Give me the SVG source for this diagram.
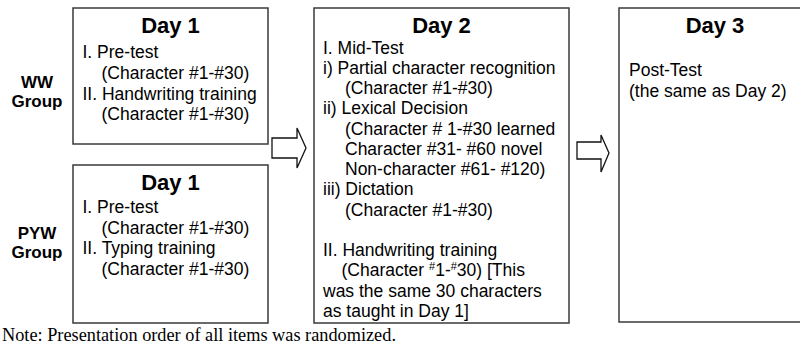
<svg xmlns="http://www.w3.org/2000/svg" width="800" height="346" viewBox="0 0 800 346">
<style>
.box{fill:#fff;stroke:#3a3a3a;stroke-width:1.5}
.arr{fill:#fff;stroke:#111;stroke-width:1.3;stroke-linejoin:miter}
.title{font-family:"Liberation Sans",Arial,sans-serif;font-weight:bold;font-size:22px;fill:#000;text-anchor:middle}
.grp{font-family:"Liberation Sans",Arial,sans-serif;font-weight:bold;font-size:17px;fill:#000;text-anchor:middle}
.t{font-family:"Liberation Sans",Arial,sans-serif;font-size:17.5px;fill:#000}
.note{font-family:"Liberation Serif","Times New Roman",serif;font-size:18.3px;fill:#000}
.sup{font-size:11px}
</style>
<rect width="800" height="346" fill="#fff"/>
<g id="ww-label">
<text class="grp" x="37" y="88">WW</text>
<text class="grp" x="37" y="107">Group</text>
</g>
<g id="pyw-label">
<text class="grp" x="37" y="239">PYW</text>
<text class="grp" x="37" y="258">Group</text>
</g>
<g id="ww-day1">
<rect class="box" x="73" y="8" width="195" height="136"/>
<text class="title" x="170.5" y="33">Day 1</text>
<text class="t" x="82.5" y="58">I. Pre-test</text>
<text class="t" x="101.5" y="78.5">(Character #1-#30)</text>
<text class="t" x="82.5" y="99.5">II. Handwriting training</text>
<text class="t" x="101.5" y="120">(Character #1-#30)</text>
</g>
<g id="pyw-day1">
<rect class="box" x="73" y="165" width="195" height="158"/>
<text class="title" x="170.5" y="190">Day 1</text>
<text class="t" x="82.5" y="213">I. Pre-test</text>
<text class="t" x="101.5" y="233.5">(Character #1-#30)</text>
<text class="t" x="82.5" y="254">II. Typing training</text>
<text class="t" x="101.5" y="274.5">(Character #1-#30)</text>
</g>
<g id="day2">
<rect class="box" x="314" y="8" width="255" height="315"/>
<text class="title" x="441.5" y="33">Day 2</text>
<text class="t" x="323" y="53.5">I. Mid-Test</text>
<text class="t" x="323" y="73.75">i) Partial character recognition</text>
<text class="t" x="345" y="94">(Character #1-#30)</text>
<text class="t" x="323" y="114.25">ii) Lexical Decision</text>
<text class="t" x="345" y="134.5">(Character # 1-#30 learned</text>
<text class="t" x="345" y="154.75">Character #31- #60 novel</text>
<text class="t" x="345" y="175">Non-character #61- #120)</text>
<text class="t" x="323" y="195.25">iii) Dictation</text>
<text class="t" x="345" y="215.5">(Character #1-#30)</text>
<text class="t" x="323" y="256">II. Handwriting training</text>
<text class="t" x="341.5" y="276.25">(Character <tspan class="sup" dy="-6">#</tspan><tspan dy="6">1-</tspan><tspan class="sup" dy="-6">#</tspan><tspan dy="6">30) [This</tspan></text>
<text class="t" x="323" y="296.5">was the same 30 characters</text>
<text class="t" x="323" y="316.75">as taught in Day 1]</text>
</g>
<g id="day3">
<rect class="box" x="619" y="8" width="192" height="314"/>
<text class="title" x="715" y="33">Day 3</text>
<text class="t" x="629" y="76">Post-Test</text>
<text class="t" x="629" y="96.5">(the same as Day 2)</text>
</g>
<g id="connectors">
<polygon class="arr" points="272,138 297,138 297,128 306,148 297,168 297,158 272,158"/>
<polygon class="arr" points="577,142 601,142 601,135 609,153 601,172 601,159 577,159"/>
</g>
<g id="note">
<text class="note" x="2" y="341">Note: Presentation order of all items was randomized.</text>
</g>
</svg>
